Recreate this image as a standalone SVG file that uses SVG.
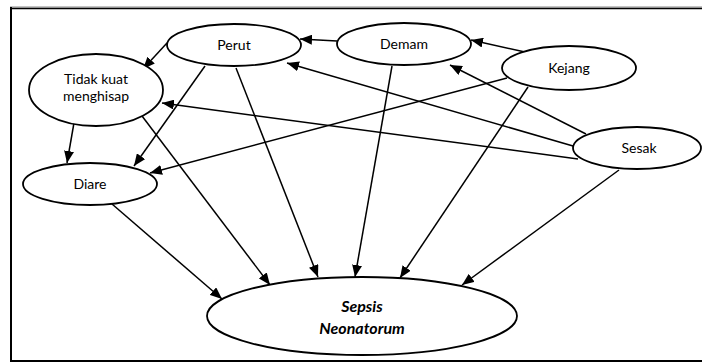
<svg xmlns="http://www.w3.org/2000/svg" width="702" height="363" viewBox="0 0 702 363">
<defs>
<style>
.n{fill:#fff;stroke:#000;stroke-width:1.8}
.t{font-family:Lato,"Open Sans","Liberation Sans",sans-serif;font-size:14px;fill:#000;text-anchor:middle}
.b{font-family:Lato,"Open Sans","Liberation Sans",sans-serif;font-size:16px;font-weight:bold;font-style:italic;fill:#000;text-anchor:middle}
.e line{stroke:#000;stroke-width:1.5;marker-end:url(#ah)}
</style>
<marker id="ah" markerUnits="userSpaceOnUse" markerWidth="12" markerHeight="10" refX="12" refY="5" orient="auto">
<path d="M0,0 L12,5 L0,10 z" fill="#000"/>
</marker>
</defs>
<rect x="0" y="0" width="702" height="363" fill="#fff"/>
<g id="frame" fill="none">
<line x1="10" y1="7" x2="702" y2="7" stroke="#888" stroke-width="1"/>
<line x1="10" y1="8.5" x2="702" y2="8.5" stroke="#000" stroke-width="1.5"/>
<line x1="11" y1="7" x2="11" y2="361" stroke="#000" stroke-width="2"/>
<line x1="10" y1="361" x2="702" y2="361" stroke="#000" stroke-width="2"/>
</g>
<g class="e" id="connectors">
<line x1="337" y1="41" x2="300" y2="39"/>
<line x1="525" y1="52" x2="471" y2="40"/>
<line x1="507" y1="78" x2="150" y2="173"/>
<line x1="167" y1="43" x2="143" y2="69"/>
<line x1="573" y1="146" x2="287" y2="63"/>
<line x1="586" y1="134" x2="450" y2="65"/>
<line x1="578" y1="159" x2="162" y2="103"/>
<line x1="75" y1="117" x2="67" y2="163"/>
<line x1="205" y1="66" x2="134" y2="166"/>
<line x1="139" y1="112" x2="270" y2="285"/>
<line x1="236" y1="68" x2="318" y2="277"/>
<line x1="392" y1="66" x2="355" y2="277"/>
<line x1="528" y1="87" x2="400" y2="278"/>
<line x1="619" y1="170" x2="462" y2="285"/>
<line x1="112" y1="204" x2="222" y2="299"/>
</g>
<g id="perut"><ellipse class="n" cx="234" cy="45" rx="67" ry="21"/><text class="t" x="234" y="50" font-size="13">Perut</text></g>
<g id="demam"><ellipse class="n" cx="404" cy="44" rx="67" ry="21"/><text class="t" x="404" y="49">Demam</text></g>
<g id="kejang"><ellipse class="n" cx="569" cy="68" rx="67" ry="22"/><text class="t" x="569" y="73">Kejang</text></g>
<g id="sesak"><ellipse class="n" cx="637" cy="148" rx="64" ry="21"/><text class="t" x="639" y="153">Sesak</text></g>
<g id="tidak"><ellipse class="n" cx="96" cy="90" rx="67" ry="36"/><text class="t" x="96" y="84" font-size="13">Tidak kuat</text><text class="t" x="96" y="101" font-size="13">menghisap</text></g>
<g id="diare"><ellipse class="n" cx="90" cy="184" rx="67" ry="21"/><text class="t" x="90" y="189">Diare</text></g>
<g id="sepsis"><ellipse class="n" cx="362" cy="316" rx="155" ry="39"/><text class="b" x="362" y="312">Sepsis</text><text class="b" x="362" y="334">Neonatorum</text></g>
</svg>
